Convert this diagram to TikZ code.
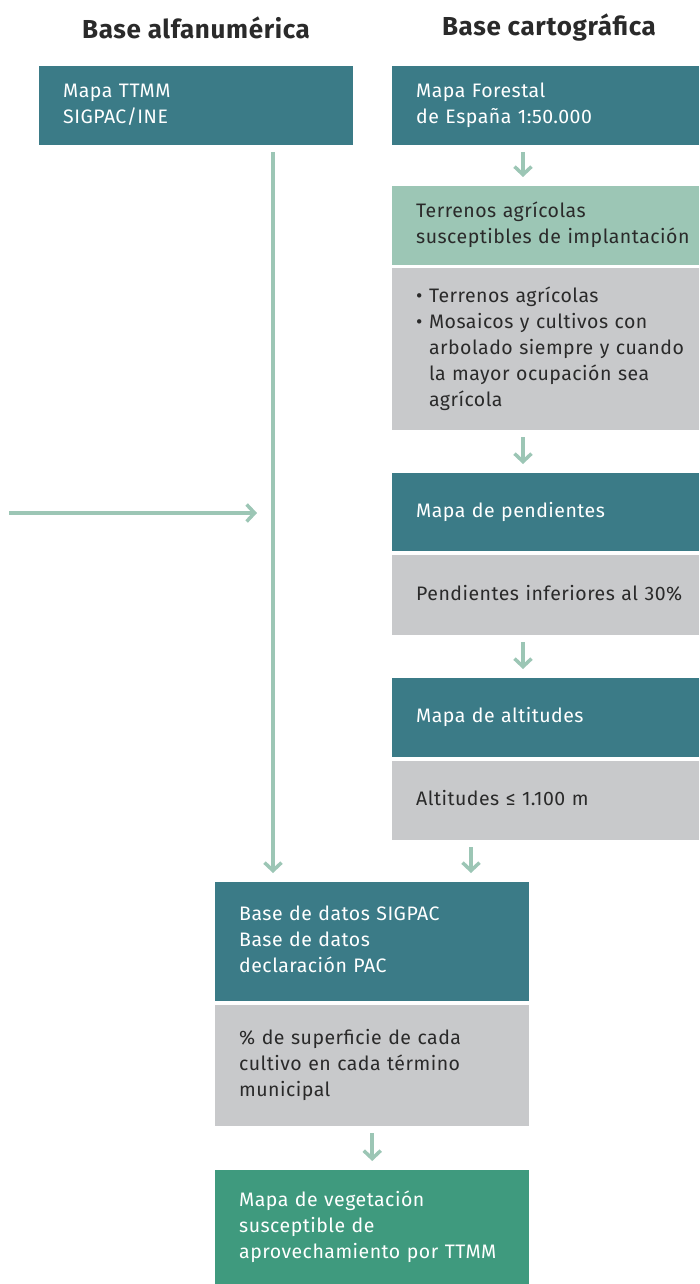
\documentclass[tikz,border=0pt]{standalone}
\usepackage{fontspec}
\setmainfont{Fira Sans}[LetterSpace=2.5]
\usetikzlibrary{arrows.meta}
\definecolor{petrol}{HTML}{3B7B87}
\definecolor{mint}{HTML}{9CC6B5}
\definecolor{ash}{HTML}{C8C9CB}
\definecolor{verde}{HTML}{3F9A7E}
\definecolor{ink}{HTML}{2A2A2A}
\tikzset{
  panel/.style={anchor=north west, minimum width=307pt, text width=259pt,
    inner xsep=24pt, inner ysep=0pt, align=left,
    font=\fontsize{19.5}{26}\selectfont},
  dark/.style={panel, fill=petrol, text=white},
  light/.style={panel, fill=mint, text=ink},
  grey/.style={panel, fill=ash, text=ink},
  final/.style={panel, fill=verde, text=white},
  wide/.style={minimum width=314pt, text width=266pt},
  head/.style={font=\fontsize{26}{30}\selectfont\bfseries, text=ink},
  flow/.style={draw=mint, line width=3.5pt,
    -{Straight Barb[length=8pt,width=17pt,line width=3.5pt]},
    shorten <=7pt, shorten >=9pt}
}
% lines are set as given, never rewrapped
\newcommand{\renglones}[1]{\begin{tabular}{@{}l@{}}#1\end{tabular}}
\newcommand{\sangria}{\phantom{\textbullet~}}

\begin{document}
\begin{tikzpicture}[x=1pt,y=-1pt]
  \useasboundingbox (0,0) rectangle (699,1284);

  % titles
  \node[head] (alfa) at (196,28) {Base alfanumérica};
  \node[head] (carto) at (549,28) {Base cartográfica};

  % left column
  \node[dark,wide,minimum height=79pt] (ttmm) at (39,66) {\renglones{Mapa TTMM\\SIGPAC/INE}};

  % right column
  \node[dark,minimum height=79pt] (forestal) at (392,66) {\renglones{Mapa Forestal\\de España 1:50.000}};
  \node[light,minimum height=79pt] (terrenos) at (392,186) {\renglones{Terrenos agrícolas\\susceptibles de implantación}};
  \node[grey,minimum height=162pt] (usos) at (392,268) {\renglones{%
    \textbullet~Terrenos agrícolas\\
    \textbullet~Mosaicos y cultivos con\\
    \sangria arbolado siempre y cuando\\
    \sangria la mayor ocupación sea\\
    \sangria agrícola}};
  \node[dark,minimum height=78pt] (pend) at (392,473) {\renglones{Mapa de pendientes}};
  \node[grey,minimum height=80pt] (pendlim) at (392,555) {\renglones{Pendientes inferiores al 30\%}};
  \node[dark,minimum height=79pt] (alt) at (392,678) {\renglones{Mapa de altitudes}};
  \node[grey,minimum height=79pt] (altlim) at (392,761) {\renglones{Altitudes ≤ 1.100 m}};

  % bottom
  \node[dark,wide,minimum height=119pt] (bd) at (215,882) {\renglones{Base de datos SIGPAC\\Base de datos\\declaración PAC}};
  \node[grey,wide,minimum height=121pt] (sup) at (215,1005) {\renglones{\% de superficie de cada\\cultivo en cada término\\municipal}};
  \node[final,wide,minimum height=114pt] (veg) at (215,1170) {\renglones{Mapa de vegetación\\susceptible de\\aprovechamiento por TTMM}};

  % arrows
  \coordinate (lane) at (523,0);
  \coordinate (trunk) at (273,0);
  \coordinate (drop) at (471,0);
  \coordinate (feed) at (9,513);
  \draw[flow] (forestal.south -| lane) -- (terrenos.north -| lane);
  \draw[flow] (usos.south -| lane) -- (pend.north -| lane);
  \draw[flow] (pendlim.south -| lane) -- (alt.north -| lane);
  \draw[flow] (altlim.south -| drop) -- (bd.north -| drop);
  \draw[flow] (ttmm.south -| trunk) -- (bd.north -| trunk);
  \draw[flow, shorten <=0pt, shorten >=16pt] (feed) -- (feed -| trunk);
  \draw[flow] (sup.south) -- (veg.north);
\end{tikzpicture}
\end{document}
